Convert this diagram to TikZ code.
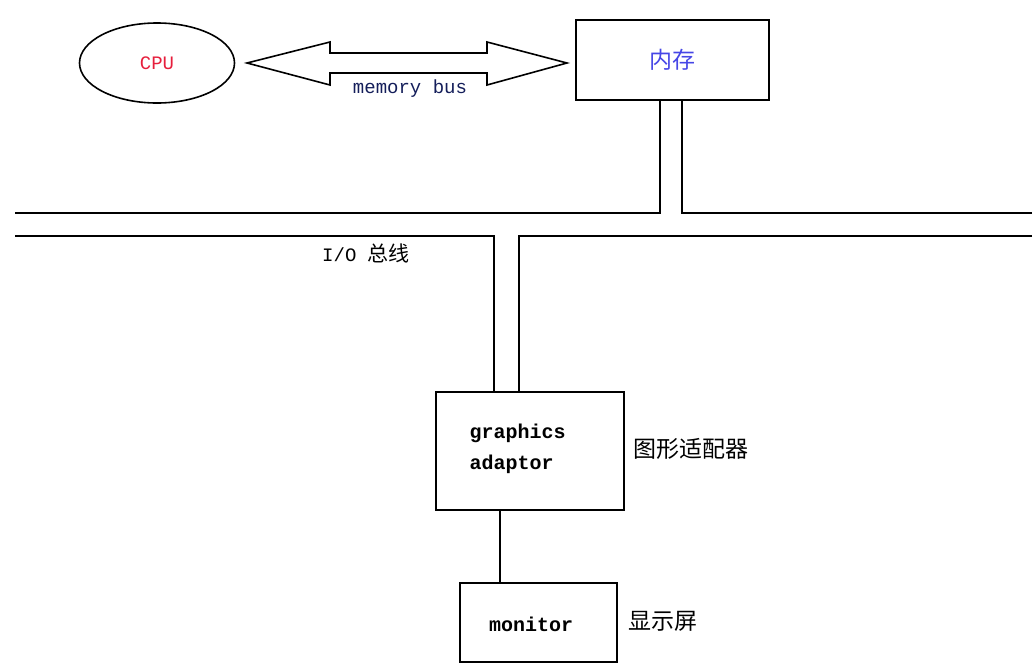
\documentclass[tikz,border=0pt]{standalone}
\usepackage{fontspec}
\setmonofont{Liberation Mono}
\newfontfamily\cjk{Noto Sans CJK SC}
\usetikzlibrary{positioning, shapes.geometric, shapes.arrows}
\definecolor{cpured}{RGB}{230,30,60}
\definecolor{memblue}{RGB}{70,70,230}
\definecolor{busnavy}{RGB}{20,30,90}
\begin{document}
\begin{tikzpicture}[
  x=1pt, y=-1pt,
  box/.style = {draw, line width=2.2pt, inner sep=0pt},
  pipe/.style = {line width=2.2pt},
  lbl/.style = {font=\ttfamily\fontsize{19}{22}\selectfont},
  bld/.style = {font=\ttfamily\bfseries\fontsize{20}{31}\selectfont},
  zh/.style = {font=\cjk\fontsize{23}{26}\selectfont}
]
  \useasboundingbox (0,0) rectangle (1035,670);

  % CPU and memory
  \node[ellipse, draw, line width=1.6pt, minimum width=155pt, minimum height=80pt,
        text=cpured, lbl] (cpu) at (157,63) {CPU};
  \node[box, minimum width=193pt, minimum height=80pt, text=memblue, zh] (mem) at (672.5,60) {内存};

  % memory bus
  \draw[line width=1.6pt] (247,63) -- (330,42) -- (330,53) -- (487,53) -- (487,42)
    -- (567,63) -- (487,85) -- (487,73) -- (330,73) -- (330,85) -- cycle;
  \node[lbl, text=busnavy] (membus) at (410,89) {memory bus};

  % I/O bus
  \coordinate (mleft) at (mem.south -| 660,0);
  \coordinate (mright) at (mem.south -| 682,0);
  \draw[pipe] (15,213) -- (660,213) -- (mleft);
  \draw[pipe] (1032,213) -- (682,213) -- (mright);
  \node[lbl] (iobus) at (366,253) {I/O {\cjk\fontsize{21}{22}\selectfont 总线}};

  % graphics adaptor
  \node[box, minimum width=188pt, minimum height=118pt] (gfx) at (530,451) {};
  \node[bld, align=left, anchor=west] (gfxtext) at (466,449) {graphics\\adaptor};
  \node[zh, anchor=west] (gfxzh) at (630,449) {图形适配器};
  \draw[pipe] (15,236) -- (494,236) -- (gfx.north -| 494,0);
  \draw[pipe] (1032,236) -- (519,236) -- (gfx.north -| 519,0);

  % monitor
  \node[box, minimum width=157pt, minimum height=79pt, bld] (mon) at (538.5,622.5) {};
  \node[bld] (montext) at (531,624) {monitor};
  \node[zh, anchor=west] (monzh) at (625,621) {显示屏};
  \draw[pipe] (gfx.south -| 500,0) -- (mon.north -| 500,0);
\end{tikzpicture}
\end{document}
